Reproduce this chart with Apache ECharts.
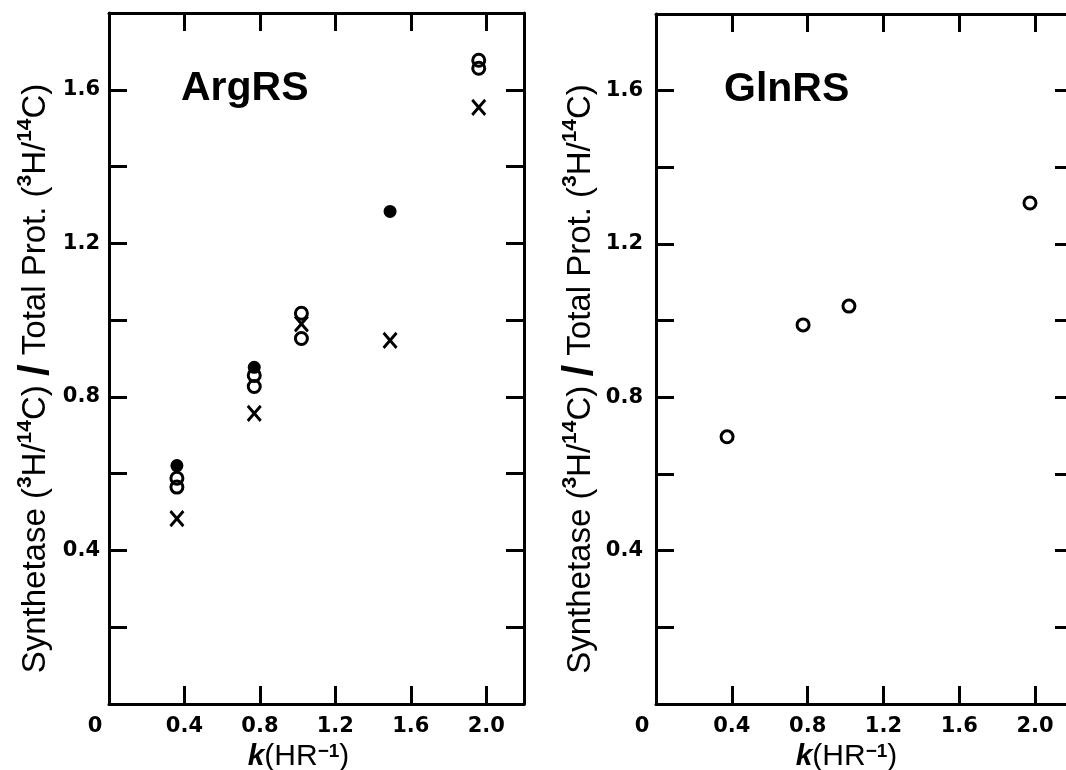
<!DOCTYPE html>
<html>
<head>
<meta charset="utf-8">
<script src="https://cdn.jsdelivr.net/npm/echarts@6/dist/echarts.min.js"></script>
<style>html,body{margin:0;padding:0;background:#fff}#c{width:1066px;height:770px}</style>
</head>
<body>
<div id="c"></div>
<script>
// ---- data ----
const panelTitles = ['ArgRS', 'GlnRS'];
const xTickValues = [0.4, 0.8, 1.2, 1.6, 2.0];
const yTickLabels = [0.4, 0.8, 1.2, 1.6];

// ArgRS
const argFilledK = [0.36, 0.77, 1.49];
const argFilledY = [0.621, 0.877, 1.283];
const argOpenK = [0.36, 0.36, 0.77, 0.77, 1.02, 1.02, 1.96, 1.96];
const argOpenY = [0.588, 0.565, 0.856, 0.827, 1.018, 0.952, 1.677, 1.656];
const argCrossK = [0.36, 0.77, 1.02, 1.49, 1.96];
const argCrossY = [0.483, 0.757, 0.990, 0.947, 1.554];
// GlnRS
const glnOpenK = [0.375, 0.776, 1.018, 1.973];
const glnOpenY = [0.697, 0.989, 1.038, 1.307];

const pairs = (xs, ys) => xs.map((x, i) => [x, ys[i]]);

const numFont = "'DejaVu Sans', sans-serif";
const txtFont = "'Liberation Sans', Arial, sans-serif";
const lineW = 3;

function isLabelY(v) {
  return yTickLabels.some(t => Math.abs(t - v) < 1e-6);
}
function isLabelX(v) {
  return xTickValues.some(t => Math.abs(t - v) < 1e-6);
}

const axisLineStyle = { show: true, onZero: false, lineStyle: { color: '#000', width: lineW } };
const tickStyle = { show: true, inside: true, length: 18, lineStyle: { color: '#000', width: lineW } };

function xAxes(gi) {
  return [
    {
      type: 'value', gridIndex: gi, position: 'bottom', min: 0, max: 2.2, interval: 0.4,
      axisLine: axisLineStyle, axisTick: tickStyle, splitLine: { show: false },
      axisLabel: {
        color: '#000', fontFamily: numFont, fontSize: 21, fontWeight: 'bold', margin: 12,
        formatter: v => (Math.abs(v) < 1e-6 ? '{z|0}' : (isLabelX(v) ? v.toFixed(1) : '')),
        rich: { z: { fontFamily: numFont, fontSize: 21, fontWeight: 'bold', color: '#000', padding: [0, 28, 0, 0] } }
      },
      name: '{k|k}(HR{s|\u22121})', nameLocation: 'middle', nameGap: 38,
      nameTextStyle: {
        color: '#000', fontFamily: txtFont, fontSize: 30, padding: [0, 36, 0, 0],
        rich: {
          k: { fontFamily: txtFont, fontSize: 30, fontStyle: 'italic', fontWeight: 'bold', color: '#000' },
          s: { fontFamily: txtFont, fontSize: 19, fontWeight: 'bold', color: '#000', verticalAlign: 'top', lineHeight: 18 }
        }
      }
    },
    {
      type: 'value', gridIndex: gi, position: 'top', min: 0, max: 2.2, interval: 0.4,
      axisLine: axisLineStyle, axisTick: tickStyle, splitLine: { show: false },
      axisLabel: { show: false }
    }
  ];
}

function yAxes(gi, labelMargin) {
  return [
    {
      type: 'value', gridIndex: gi, position: 'left', min: 0, max: 1.8, interval: 0.2,
      axisLine: axisLineStyle, axisTick: tickStyle, splitLine: { show: false },
      axisLabel: {
        color: '#000', fontFamily: numFont, fontSize: 21, fontWeight: 'bold', margin: labelMargin,
        formatter: v => (isLabelY(v) ? v.toFixed(1) : '')
      },
      name: 'Synthetase ({s|3}H/{s|14}C) {sl|/} Total Prot. ({s|3}H/{s|14}C)',
      nameLocation: 'middle', nameGap: 52, nameRotate: 90,
      nameTextStyle: {
        color: '#000', fontFamily: txtFont, fontSize: 33, padding: [0, 40, 0, 0],
        rich: {
          s: { fontFamily: txtFont, fontSize: 21, fontWeight: 'bold', color: '#000', verticalAlign: 'top', lineHeight: 20 },
          sl: { fontFamily: txtFont, fontSize: 42, fontWeight: 'bold', color: '#000' }
        }
      }
    },
    {
      type: 'value', gridIndex: gi, position: 'right', min: 0, max: 1.8, interval: 0.2,
      axisLine: axisLineStyle, axisTick: tickStyle, splitLine: { show: false },
      axisLabel: { show: false }
    }
  ];
}

const openStyle = { color: 'rgba(0,0,0,0)', borderColor: '#000', borderWidth: 3, opacity: 1 };
const crossPath = 'path://M0,0L10,12M10,0L0,12';

const option = {
  backgroundColor: '#fff',
  animation: false,
  grid: [
    { left: 109, top: 13, width: 415, height: 691, containLabel: false, outerBoundsMode: 'none' },
    { left: 656, top: 14, width: 417, height: 690, containLabel: false, outerBoundsMode: 'none' }
  ],
  xAxis: [...xAxes(0), ...xAxes(1)],
  yAxis: [...yAxes(0, 9), ...yAxes(1, 13)],
  graphic: [
    { type: 'text', left: 181, top: 68, style: { text: panelTitles[0], fontFamily: txtFont, fontWeight: 'bold', fontSize: 41, fill: '#000' } },
    { type: 'text', left: 724, top: 69, style: { text: panelTitles[1], fontFamily: txtFont, fontWeight: 'bold', fontSize: 41, fill: '#000' } }
  ],
  series: [
    {
      type: 'scatter', xAxisIndex: 0, yAxisIndex: 0, symbol: 'circle', symbolSize: 13,
      itemStyle: { color: '#000', opacity: 1 }, data: pairs(argFilledK, argFilledY)
    },
    {
      type: 'scatter', xAxisIndex: 0, yAxisIndex: 0, symbol: crossPath, symbolSize: [13, 15],
      itemStyle: { color: 'rgba(0,0,0,0)', borderColor: '#000', borderWidth: 3, opacity: 1 }, data: pairs(argCrossK, argCrossY)
    },
    {
      type: 'scatter', xAxisIndex: 0, yAxisIndex: 0, symbol: 'circle', symbolSize: 12,
      itemStyle: openStyle, data: pairs(argOpenK, argOpenY)
    },
    {
      type: 'scatter', xAxisIndex: 2, yAxisIndex: 2, symbol: 'circle', symbolSize: 12,
      itemStyle: openStyle, data: pairs(glnOpenK, glnOpenY)
    }
  ]
};

const chart = echarts.init(document.getElementById('c'), null, { renderer: 'canvas' });
chart.setOption(option);
</script>
</body>
</html>
